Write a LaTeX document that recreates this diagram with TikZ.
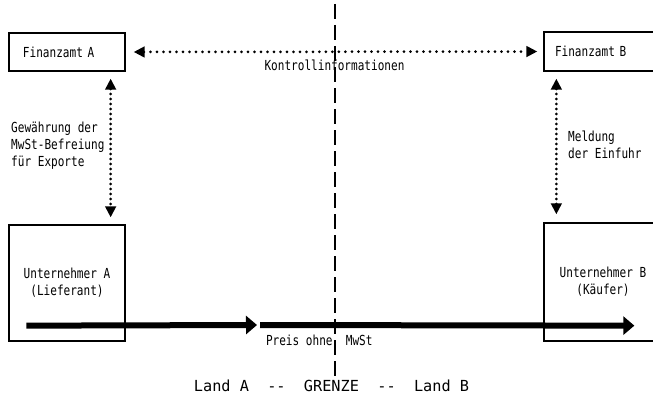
\documentclass[tikz,border=0pt]{standalone}
\usepackage{fontspec}
\usepackage{tikz}
\usetikzlibrary{arrows.meta}
\newfontfamily\dotfont[FakeStretch=0.8]{DejaVu Sans Mono}
\newfontfamily\landfont{DejaVu Sans Mono}
\newlength\pxu
\setlength\pxu{0.03cm}
\tikzstyle{box} = [draw, line width=1.3\pxu, inner sep=0pt, font=\dotfont\fontsize{11.8pt}{14.5pt}\selectfont]
\tikzstyle{lbl} = [inner sep=0pt, align=left, font=\dotfont\fontsize{11.8pt}{14.5pt}\selectfont]
\tikzstyle{dotarrow} = [line width=3\pxu, line cap=round, dash pattern=on 0pt off 6.5\pxu, {Triangle[length=9.4pt,width=9pt]}-{Triangle[length=9.4pt,width=9pt]}]
\tikzstyle{flow} = [line width=6\pxu, -{Triangle[length=9.4pt,width=15.4pt]}]
\tikzstyle{grenze} = [line width=1.3\pxu, dash pattern=on 15\pxu off 6\pxu]

\begin{document}
\begin{tikzpicture}[x=0.03cm,y=-0.03cm]
	\useasboundingbox (0,0) rectangle (653,395);
	\clip (0,0) rectangle (653,395);
	\node[box, text width=88\pxu, inner xsep=14\pxu, minimum height=38\pxu, align=left] (fa) at (67,52) {Finanzamt A};
	\node[box, text width=96\pxu, inner xsep=11\pxu, minimum height=39\pxu, align=left] (fb) at (603,51.5) {Finanzamt B};
	\node[box, minimum width=116\pxu, minimum height=116\pxu, align=center] (ua) at (67,283) {Unternehmer A\\(Lieferant)};
	\node[box, minimum width=118\pxu, minimum height=118\pxu, align=center] (ub) at (603,282) {Unternehmer B\\(Käufer)};
	\node[lbl, anchor=west] (gew) at (11,146) {Gewährung der\\MwSt-Befreiung\\für Exporte};
	\node[lbl, anchor=west] (meld) at (568,144.5) {Meldung\\der Einfuhr};
	\draw[dotarrow, shorten <=8\pxu, shorten >=6\pxu] (fa.east) -- node[lbl, below, yshift=-7\pxu] (kontr) {Kontrollinformationen} (fb.west);
	\draw[dotarrow, dash pattern=on 0pt off 5\pxu, shorten <=7\pxu, shorten >=7\pxu] ([xshift=-15\pxu]fa.south east) -- ([xshift=-15\pxu]ua.north east);
	\draw[dotarrow, dash pattern=on 0pt off 5\pxu, shorten <=7\pxu, shorten >=8\pxu] ([xshift=13\pxu]fb.south west) -- ([xshift=13\pxu]ub.north west);
	\coordinate (grenzeA) at (257,325);
	\coordinate (grenzeB) at (260,325);
	\draw[flow] ([shift={(18,-16)}]ua.south west) -- (grenzeA);
	\draw[flow] (grenzeB) -- node[lbl, pos=0, anchor=north west, xshift=3\pxu, yshift=-7\pxu] (preis) {Preis ohne\ \ MwSt} ([shift={(91,-16)}]ub.south west);
	\coordinate (gtop) at (335,4);
	\coordinate (gbot) at (335,378);
	\draw[grenze] (gtop) -- (gbot);
	\node[inner sep=0pt, anchor=base, font=\landfont\fontsize{13pt}{16pt}\selectfont] (land) at (331.5,391) {Land A\ \ -\kern0pt-\ \ GRENZE\ \ -\kern0pt-\ \ Land B};
\end{tikzpicture}
\end{document}
